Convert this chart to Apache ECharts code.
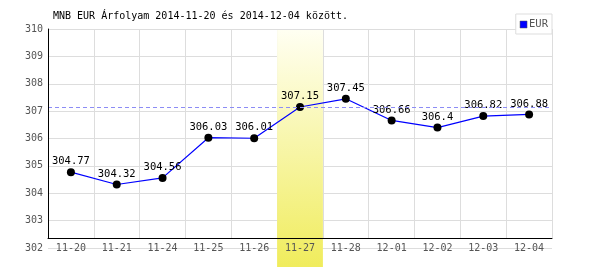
<!DOCTYPE html>
<html>
<head>
<meta charset="utf-8">
<script src="https://cdn.jsdelivr.net/npm/echarts@6/dist/echarts.min.js"></script>
<style>html,body{margin:0;padding:0;background:#fff}#c{width:600px;height:270px}</style>
</head>
<body>
<div id="c"></div>
<script>
const categories = ['11-20','11-21','11-24','11-25','11-26','11-27','11-28','12-01','12-02','12-03','12-04'];
const eurValues = [304.77, 304.32, 304.56, 306.03, 306.01, 307.15, 307.45, 306.66, 306.4, 306.82, 306.88];
const highlightDay = '11-27';
const referenceValue = 307.15;
const yMin = 302, yMax = 310, yStep = 1;
const titleText = 'MNB EUR Árfolyam 2014-11-20 és 2014-12-04 között.';
const seriesName = 'EUR';

const FONT = 'DejaVu Sans Mono';
const bandData = categories.map(c => c === highlightDay ? 1 : null);

const chart = echarts.init(document.getElementById('c'), null, {renderer: 'canvas'});
chart.setOption({
  animation: false,
  backgroundColor: '#fff',
  title: {
    text: titleText, left: 48, top: 11, padding: [0, 5],
    textStyle: {fontFamily: FONT, fontSize: 10, fontWeight: 'normal', color: '#000'}
  },
  legend: {
    data: [seriesName], right: 48, top: 14,
    backgroundColor: '#fff', borderColor: '#ddd', borderWidth: 1,
    padding: [5, 4, 4, 4],
    icon: 'rect', itemWidth: 7, itemHeight: 7, itemGap: 2,
    itemStyle: {color: '#0000ff', borderColor: '#555', borderWidth: 0.5},
    textStyle: {fontFamily: FONT, fontSize: 10.5, color: '#555', padding: [0, 0, 0, -3]},
    z: 10
  },
  grid: [
    {left: 48, right: 48, top: 29, height: 219},
    {left: 48, right: 48, top: 29, height: 209},
    {left: 48, right: 48, top: 30, height: 237}
  ],
  xAxis: [
    {type: 'category', gridIndex: 0, data: categories, boundaryGap: true,
     axisLine: {show: false}, axisTick: {show: false}, splitLine: {show: false},
     axisLabel: {fontFamily: FONT, fontSize: 10, color: '#555', margin: 0, verticalAlign: 'middle', interval: 0},
     z: 5},
    {type: 'category', gridIndex: 1, data: categories, boundaryGap: true,
     axisLine: {show: false}, axisTick: {show: false}, axisLabel: {show: false},
     splitLine: {show: true, interval: 0, lineStyle: {color: '#ddd', width: 1}}, z: 0},
    {type: 'category', gridIndex: 1, data: categories, boundaryGap: true, position: 'bottom',
     axisLine: {show: true, lineStyle: {color: '#000', width: 1}}, axisTick: {show: false},
     axisLabel: {show: false}, splitLine: {show: false}, z: 5},
    {type: 'category', gridIndex: 2, data: categories, boundaryGap: true, show: false}
  ],
  yAxis: [
    {type: 'value', gridIndex: 0, min: yMin, max: yMax, interval: yStep,
     axisLine: {show: false}, axisTick: {show: false},
     axisLabel: {fontFamily: FONT, fontSize: 10, color: '#555', margin: 5},
     splitLine: {show: true, lineStyle: {color: '#ddd', width: 1}}, z: 0},
    {type: 'value', gridIndex: 1, min: 0, max: 1,
     axisLine: {show: true, lineStyle: {color: '#000', width: 1}}, axisTick: {show: false},
     axisLabel: {show: false}, splitLine: {show: false}, z: 5},
    {type: 'value', gridIndex: 2, min: 0, max: 1, show: false}
  ],
  series: [
    {
      name: 'ref', type: 'line', xAxisIndex: 0, yAxisIndex: 0, data: [], z: 1,
      markLine: {
        silent: true, symbol: 'none', label: {show: false},
        lineStyle: {color: '#8c8cf5', type: [4, 3], width: 1, opacity: 1},
        data: [{yAxis: referenceValue}]
      }
    },
    {
      name: 'band', type: 'bar', xAxisIndex: 3, yAxisIndex: 2, data: bandData, z: 2,
      barWidth: '100%', barGap: '0%', silent: true,
      itemStyle: {color: new echarts.graphic.LinearGradient(0, 0, 0, 1, [
        {offset: 0, color: '#fffff2'}, {offset: 1, color: '#f0ec5c'}
      ])}
    },
    {
      name: seriesName, type: 'line', xAxisIndex: 0, yAxisIndex: 0, data: eurValues, z: 3,
      lineStyle: {color: '#0000ff', width: 1.2},
      symbol: 'circle', symbolSize: 8,
      itemStyle: {color: '#000'},
      label: {show: true, position: 'top', distance: 1, fontFamily: FONT, fontSize: 10.5, color: '#000'}
    }
  ]
});
</script>
</body>
</html>
